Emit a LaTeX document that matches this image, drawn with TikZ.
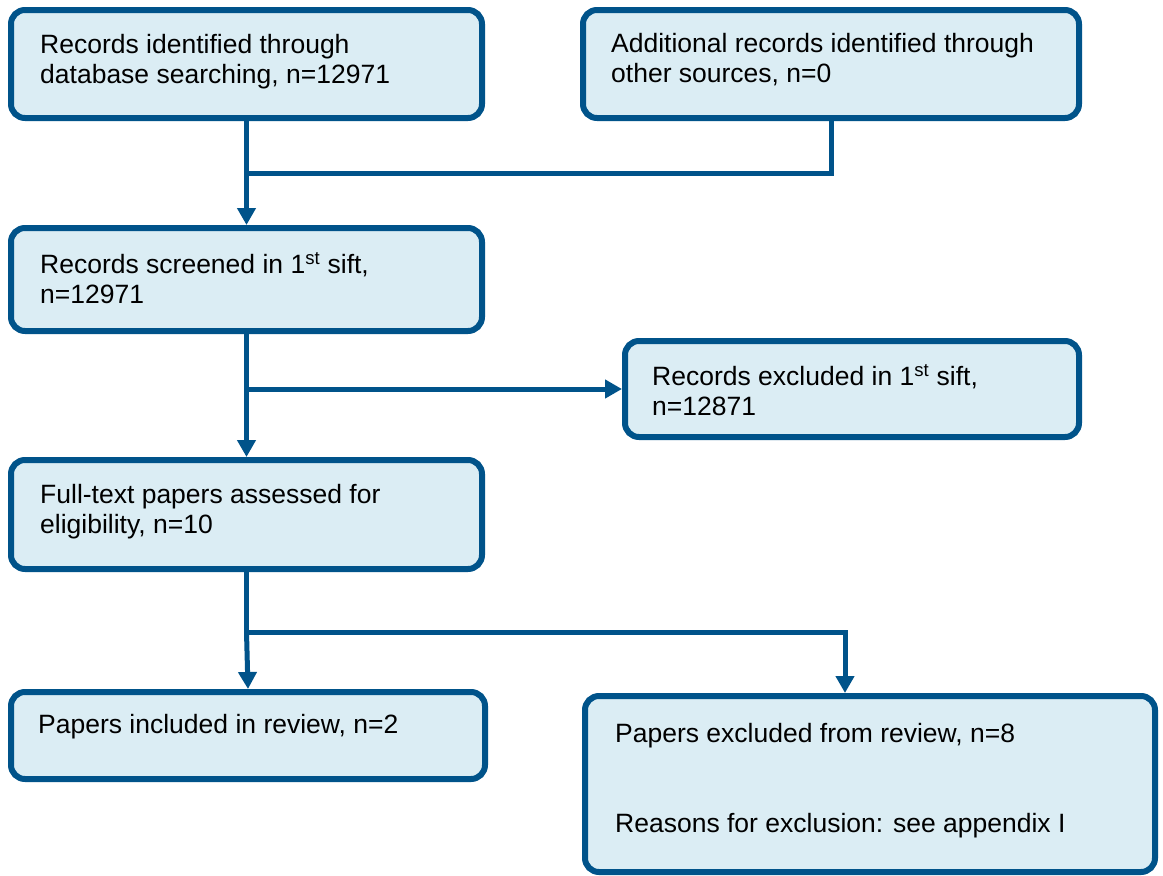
\documentclass[tikz,border=0pt]{standalone}
\usepackage{fontspec}
\setmainfont{Liberation Sans}
\usepackage{xcolor}
\usetikzlibrary{arrows.meta}
\definecolor{flowblue}{RGB}{0,83,138}
\definecolor{boxfill}{RGB}{219,237,244}

\begin{document}
\begin{tikzpicture}[x=1pt,y=-1pt,>={Triangle[length=17pt,width=18pt]},
  box/.style={draw=flowblue,fill=boxfill,line width=6pt,rounded corners=14pt,
    anchor=north west,inner sep=0pt},
  txt/.style={anchor=north west,align=left,inner sep=0pt,
    font=\fontsize{26.5}{30}\selectfont},
  flow/.style={draw=flowblue,line width=5pt}]
\useasboundingbox (0,0) rectangle (1163,876);
% boxes
  \node[box,minimum width=471pt,minimum height=108pt] (ident) at (8,7) {};
  \node[box,minimum width=496pt,minimum height=108pt] (other) at (580,7) {};
  \node[box,minimum width=471pt,minimum height=103pt] (screen) at (8,225) {};
  \node[box,minimum width=454pt,minimum height=96pt] (excl) at (622,338) {};
  \node[box,minimum width=471pt,minimum height=109pt] (full) at (8,457) {};
  \node[box,minimum width=474pt,minimum height=87pt] (incl) at (8,689) {};
  \node[box,minimum width=570pt,minimum height=176pt] (exclrev) at (582,693) {};
% texts (top of first line)
  \node[txt] (identtext) at (40,34) {Records identified through\\database searching, n=12971};
  \node[txt] (othertext) at (611,33) {Additional records identified through\\other sources, n=0};
  \node[txt] (screentext) at (40,252) {Records screened in 1\textsuperscript{st} sift,\\n=12971};
  \node[txt] (excltext) at (652,364) {Records excluded in 1\textsuperscript{st} sift,\\n=12871};
  \node[txt] (fulltext) at (40,484) {Full-text papers assessed for\\eligibility, n=10};
  \node[txt] (incltext) at (38,714) {Papers included in review, n=2};
  \node[txt] (exclrevtext) at (615,723) {Papers excluded from review, n=8\\[60pt]Reasons for exclusion: see appendix I};
% connectors
  \coordinate (j1) at (ident.south |- 0,173);
  \coordinate (j2) at (screen.south |- excl.west);
  \coordinate (j3) at (full.south |- 0,632);
  \draw[flow] (ident.south) -- (j1) -| (other.south);
  \draw[flow,->] (j1) -- (screen.north);
  \draw[flow,->] (screen.south) -- (full.north);
  \draw[flow,->] (j2) -- (excl.west);
  \draw[flow] (full.south) -- (j3);
  \draw[flow,->] (j3) -- (incl.north);
  \draw[flow,->] (j3) -| ([xshift=-25pt]exclrev.north);
\end{tikzpicture}
\end{document}
